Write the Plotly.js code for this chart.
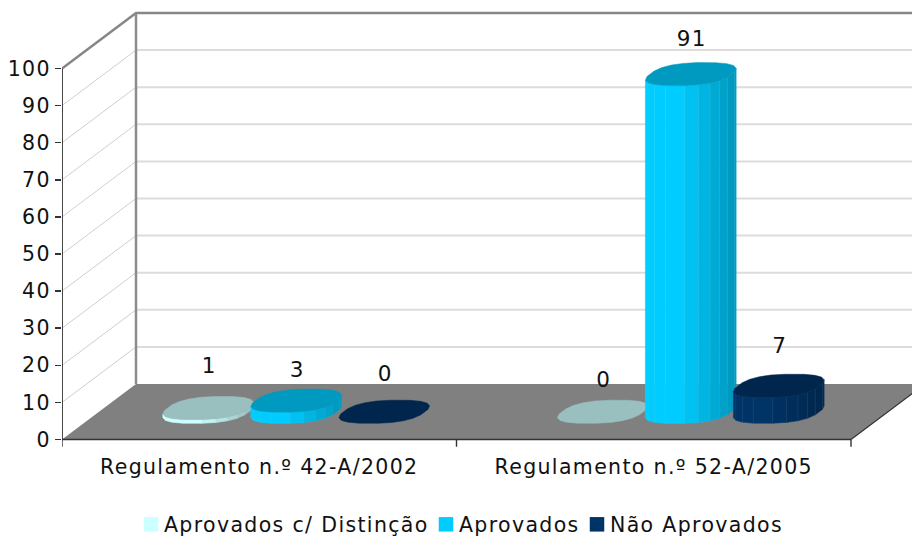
<!DOCTYPE html>
<html><head><meta charset="utf-8">
<script src="https://cdn.plot.ly/plotly-3.0.1.min.js"></script>
<style>html,body{margin:0;padding:0;background:#fff}#c{width:912px;height:537px}
text{letter-spacing:1.35px}
.legendsymbols{transform:translateX(7px)}
</style>
</head><body><div id="c"></div>
<script>
// ---- data
var categories = ['Regulamento n.º 42-A/2002', 'Regulamento n.º 52-A/2005'];
var seriesNames = ['Aprovados c/ Distinção', 'Aprovados', 'Não Aprovados'];
var valuesDistincao = [1, 0];
var valuesAprovados = [3, 91];
var valuesNao = [0, 7];
var seriesValues = [valuesDistincao, valuesAprovados, valuesNao];
var seriesColors = [[204,255,255],[0,204,255],[0,51,102]];
var yTicks = [0,10,20,30,40,50,60,70,80,90,100];
// per-label vertical lift above the bar top (axis units)
var labelLift = [[10.9,8.0],[7.8,9.15],[9.8,10.3]];

// ---- geometry scale (pixels per axis unit)
var W=912,H=537, L=62, T=10, B=447, Y0=439.5;
var PXX=394.5, PXY=3.71;
var DX=74/PXX, DY=55.5/PXY;          // depth of the chart box
var XL=-0.5, XR=1.5;
var groupStep=88/PXX;
var rxPx=41, dxPx=14.5, dyPx=11.6;

var traces=[];
function line(xs,ys,color,width){
  traces.push({x:xs,y:ys,mode:'lines',line:{color:color,width:width},showlegend:false,hoverinfo:'skip',type:'scatter'});
}
function poly(xs,ys,fill,lc,lw){
  traces.push({x:xs,y:ys,mode:'lines',fill:'toself',fillcolor:fill,line:{color:lc||fill,width:lw===undefined?0.5:lw},showlegend:false,hoverinfo:'skip',type:'scatter'});
}
function rgb(c,f,mix){
  var m=mix||0;
  return 'rgb('+c.map(function(v){return Math.round(v*f*(1-m)+255*m);}).join(',')+')';
}

// walls: gridlines on side wall and back wall
yTicks.forEach(function(v){
  if(v===0) return;
  line([XL,XL+DX],[v,v+DY],'#cfcfcf',1);
  line([XL+DX,2.2],[v+DY,v+DY],'#dcdcdc',2);
});
// floor
poly([XL,XR,XR+DX,XL+DX,XL],[0,0,DY,DY,0],'#808080','#808080',0);
// wall outlines
line([XL,XL+DX,2.2],[100,100+DY,100+DY],'#868686',2.5);
line([XL+DX,XL+DX],[DY,100+DY],'#8c8c8c',2.5);
// front edges
line([XR,XR+DX],[0,DY],'#333333',1.2);
line([XL,XR],[0,0],'#333333',1.6);
line([XL,XL],[0,100],'#333333',1.8);
[-0.5,0.5,1.5].forEach(function(x){ line([x,x],[0,-1.95],'#333333',1.4); });

// bars
var N=20, EXP=0.78;
function sp(v){ return (v<0?-1:1)*Math.pow(Math.abs(v),EXP); }
function pt(cx,cy,k){
  var t=2*Math.PI*k/N+0.13, C=sp(Math.cos(t)), S=sp(Math.sin(t));
  return [cx+(rxPx*C+dxPx*S)/PXX, cy+dyPx*S/PXY];
}
var kR=0;
for(var q=0;q<N;q++){ if(pt(0,0,q)[0]>pt(0,0,kR)[0]) kR=q; }
categories.forEach(function(cat,ci){
  seriesValues.forEach(function(vals,si){
    var v=vals[ci], col=seriesColors[si];
    var cx=ci+(si-1)*groupStep+DX/2, cy=DY/2, k, a, b;
    if(v>0){
      for(k=kR+N/2;k<kR+N;k++){
        a=pt(cx,cy,k); b=pt(cx,cy,k+1);
        var f=((a[0]+b[0])/2-cx)*PXX/46;
        var shade=f<-0.2?1:Math.max(0.75,1-0.25*(f+0.2)/1.1);
        poly([a[0],b[0],b[0],a[0],a[0]],[a[1],b[1],b[1]+v,a[1]+v,a[1]],rgb(col,shade),rgb(col,shade,0.08),0.6);
      }
    }
    var xs=[],ys=[];
    for(k=0;k<=N;k++){ a=pt(cx,cy+v,k); xs.push(a[0]); ys.push(a[1]); }
    poly(xs,ys,rgb(col,0.75),rgb(col,0.75),0.5);
  });
});

// data labels
categories.forEach(function(cat,ci){
  seriesValues.forEach(function(vals,si){
    var v=vals[ci];
    traces.push({x:[ci+(si-1)*groupStep+DX/2+1/PXX],y:[v+DY/2+labelLift[si][ci]],mode:'text',text:[String(v)],
      textposition:'middle center',textfont:{family:'DejaVu Sans',size:21.5,color:'#111'},showlegend:false,hoverinfo:'skip',type:'scatter',cliponaxis:false});
  });
});

// legend
var legendIds=['legend','legend2','legend3'];
seriesNames.forEach(function(n,i){
  traces.push({x:[null],y:[null],mode:'markers',name:n,type:'scatter',legend:legendIds[i],
    marker:{symbol:'square',size:14.5,color:rgb(seriesColors[i],1)},showlegend:true,hoverinfo:'skip'});
});
var lf={family:'DejaVu Sans',size:20.5,color:'#111'};
function lg(px){ return {xref:'container',yref:'container',x:px/W,xanchor:'left',y:(H-524.5)/H,yanchor:'middle',orientation:'h',font:lf,bgcolor:'rgba(0,0,0,0)',borderwidth:0,itemsizing:'trace',itemwidth:30}; }

var layout={
  width:W,height:H,margin:{l:L,r:0,t:T,b:H-B,pad:0},
  paper_bgcolor:'#fff',plot_bgcolor:'#fff',showlegend:true,
  xaxis:{range:[XL,XL+(W-L)/PXX],tickmode:'array',tickvals:[0,1],ticktext:categories,showgrid:false,zeroline:false,showline:false,
    ticks:'',ticklabelstandoff:5,tickfont:{family:'DejaVu Sans',size:20.5,color:'#111'},fixedrange:true},
  yaxis:{range:[-(B-Y0)/PXY,(Y0-T)/PXY],tickmode:'array',tickvals:yTicks,ticktext:yTicks.map(String),showgrid:false,zeroline:false,showline:false,
    ticks:'outside',ticklen:6,tickwidth:1.5,tickcolor:'#333',tickfont:{family:'DejaVu Sans',size:20.5,color:'#111'},fixedrange:true},
  legend:lg(124),legend2:lg(419),legend3:lg(570)
};
Plotly.newPlot('c',traces,layout,{displayModeBar:false,staticPlot:true});
</script></body></html>
